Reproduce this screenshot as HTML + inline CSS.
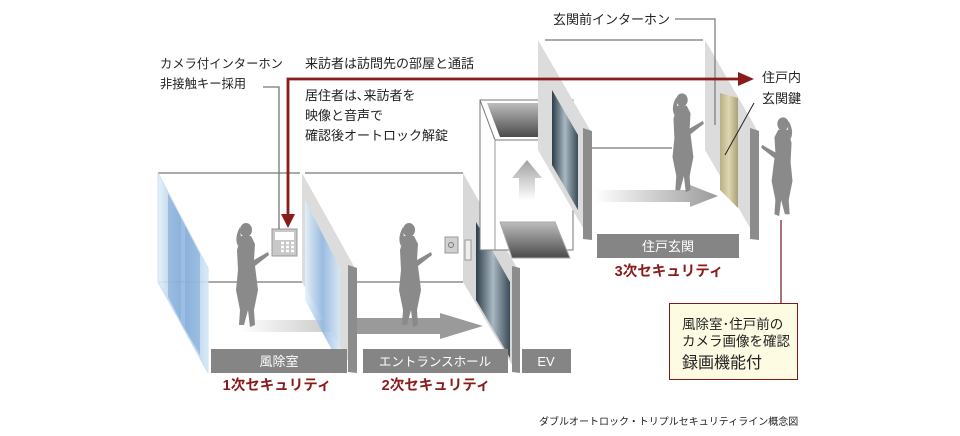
<!DOCTYPE html>
<html><head><meta charset="utf-8"><style>
html,body{margin:0;padding:0;background:#fff;}
svg{display:block;}
text{font-family:"Liberation Sans","Noto Sans CJK JP",sans-serif;}
</style></head><body>
<svg width="960" height="436" viewBox="0 0 960 436" xmlns="http://www.w3.org/2000/svg">
<defs>
<linearGradient id="glass" x1="0" x2="1" y1="0" y2="0"><stop offset="0" stop-color="#e4f1fb"/><stop offset=".5" stop-color="#8fb6e0"/><stop offset="1" stop-color="#d6e9f8"/></linearGradient>
<linearGradient id="door" x1="0" x2="1"><stop offset="0" stop-color="#2d3e4a"/><stop offset=".5" stop-color="#a9b8c2"/><stop offset="1" stop-color="#3a4c58"/></linearGradient>
<linearGradient id="plat" x1="0" y1="0" x2="0" y2="1"><stop offset="0" stop-color="#bdbdbd"/><stop offset="1" stop-color="#4a4a4a"/></linearGradient>
<linearGradient id="arr" x1="0" x2="1"><stop offset="0" stop-color="#fff"/><stop offset="1" stop-color="#9a9a9a"/></linearGradient>
<linearGradient id="arrv" x1="0" y1="1" x2="0" y2="0"><stop offset="0" stop-color="#fff"/><stop offset="1" stop-color="#a0a0a0"/></linearGradient>
<linearGradient id="gold" x1="0" x2="1"><stop offset="0" stop-color="#b8b086"/><stop offset=".5" stop-color="#ddd6b0"/><stop offset="1" stop-color="#a8a078"/></linearGradient>
<g id="woman" fill="#8a8a8a">
<ellipse cx="0" cy="0" rx="6" ry="7"/>
<path d="M-5 6 L5 6 L9 14 L8 30 L22 22 L23 25 L9 36 L12 60 L8 80 L9 95 L4 97 L2 80 L-2 95 L-7 95 L-6 80 L-10 60 L-8 40 L-9 20 Z"/>
<path d="M-6 -3 Q-12 8 -8 16 L-5 8Z"/>
</g>
</defs>

<path d="M158 173 H300 M305 173 H463 M158 282 H302 M355 282 H463" stroke="#777" stroke-width="1.2" fill="none"/>
<rect x="240" y="320" width="140" height="12" fill="url(#arr)" opacity=".8"/>
<path d="M355 318 H440 V313 L483 326 L440 339 V334 H355Z" fill="#9a9a9a"/>
<path d="M158 173 L208 268 V373 L158 282Z" fill="url(#glass)" opacity=".9"/>
<path d="M168 193 L181 217 V321 L168 297Z M185 224 L200 252 V355 L185 328Z" fill="#7fa8d6" opacity=".6"/>
<path d="M158 173 L208 268 V373 L158 282Z" fill="none" stroke="#cfe2f3"/>
<path d="M302 173 L355 268 V373 L302 282Z" fill="#dcdcdc"/>
<path d="M348 265 L357 268 V373 L348 372Z" fill="#8c8c8c"/>
<path d="M305 200 L340 268 V365 L305 300Z" fill="url(#glass)" opacity=".85"/>
<path d="M463 173 L517 268 V373 L463 282Z" fill="#d8d8d8"/>
<path d="M512 266 L520 268 V373 L512 372Z" fill="#8c8c8c"/>
<path d="M476 222 L510 282 V358 L476 300Z" fill="url(#door)"/>
<rect x="465" y="240" width="6" height="20" fill="#eee" stroke="#999"/>
<path d="M480 100 H573 V250 H480Z" fill="#fff" stroke="#777"/>
<path d="M480 100 L495 140 H573" fill="none" stroke="#777"/>
<path d="M487 103 L545 103 L560 137 L500 137Z" fill="url(#plat)"/>
<path d="M500 222 L555 222 L570 258 L512 258Z" fill="url(#plat)" stroke="#aaa"/>
<path d="M519 200 V178 H512 L527 160 L542 178 H535 V200Z" fill="url(#arrv)"/>
<path d="M495 140 V250" stroke="#999"/>
<path d="M545 40 H703 M590 148 H672" stroke="#777" stroke-width="1.2" fill="none"/>
<path d="M538 40 L590 130 V240 L538 150Z" fill="#dcdcdc"/>
<path d="M583 128 L592 131 V240 L583 239Z" fill="#8c8c8c"/>
<path d="M552 90 L578 135 V210 L552 165Z" fill="url(#door)"/>
<path d="M705 40 L757 130 V240 L705 150Z" fill="#dcdcdc"/>
<path d="M750 128 L759 131 V240 L750 239Z" fill="#8c8c8c"/>
<path d="M720 93 L738 98 V208 L720 190Z" fill="url(#gold)"/>
<path d="M595 190 H690 V185 L718 196 L690 207 V202 H595Z" fill="url(#arr)"/>
<rect x="211" y="349" width="136" height="24" fill="#858585"/>
<rect x="363" y="349" width="145" height="24" fill="#858585"/>
<rect x="522" y="349" width="49" height="24" fill="#858585"/>
<rect x="597" y="234" width="142" height="24" fill="#858585"/>
<text x="279" y="366" fill="#fff" font-size="13" text-anchor="middle">風除室</text>
<text x="435" y="366" fill="#fff" font-size="12.5" text-anchor="middle">エントランスホール</text>
<text x="546" y="366" fill="#fff" font-size="13" text-anchor="middle">EV</text>
<text x="668" y="251" fill="#fff" font-size="13" text-anchor="middle">住戸玄関</text>
<text x="277" y="390" fill="#8b1a1a" font-size="14.5" font-weight="bold" text-anchor="middle">1次セキュリティ</text>
<text x="436" y="390" fill="#8b1a1a" font-size="14.5" font-weight="bold" text-anchor="middle">2次セキュリティ</text>
<text x="669" y="276" fill="#8b1a1a" font-size="14.5" font-weight="bold" text-anchor="middle">3次セキュリティ</text>
<rect x="272" y="229" width="25" height="27" fill="#c8c8c8" stroke="#999"/>
<rect x="275" y="232" width="19" height="8" fill="#fff"/>
<path d="M281 243 h3 M286 243 h3 M291 243 h3 M281 247 h3 M286 247 h3 M291 247 h3 M281 251 h3 M286 251 h3 M291 251 h3" stroke="#fff" stroke-width="2.5"/>
<rect x="445" y="237" width="13" height="16" fill="#d0d0d0" stroke="#999"/>
<circle cx="451" cy="245" r="2.5" fill="none" stroke="#777"/>
<use href="#woman" transform="translate(246,230)"/>
<use href="#woman" transform="translate(409,230)"/>
<use href="#woman" transform="translate(682,100) scale(0.95)"/>
<use href="#woman" transform="translate(783,124) scale(-0.95,0.95)"/>
<path d="M263 87 H279 V229" stroke="#777" fill="none" stroke-width="1.3"/>
<path d="M675 19 H715 V125" stroke="#777" fill="none" stroke-width="1.2"/>
<path d="M754 103 L725 155" stroke="#222" fill="none"/>
<path d="M288 217 V79 H740" stroke="#8b1a1a" stroke-width="2.8" fill="none"/>
<path d="M281 214 L288 228 L295 214Z" fill="#8b1a1a"/>
<path d="M738 72 L754 79 L738 86Z" fill="#8b1a1a"/>
<path d="M781 220 V303" stroke="#6b1a1a" stroke-width="1.2"/>
<rect x="669.5" y="303.5" width="128" height="76" fill="#fdfbe2" stroke="#7a1a1a"/>
<g font-size="13.5" fill="#222">
<text x="682" y="329">風除室･住戸前の</text>
<text x="682" y="346">カメラ画像を確認</text>
<text x="682" y="368" font-size="16">録画機能付</text>
</g>
<g font-size="13" fill="#222">
<text x="160" y="68" font-size="12.3">カメラ付インターホン</text>
<text x="160" y="88" font-size="12.3">非接触キー採用</text>
<text x="305" y="68">来訪者は訪問先の部屋と通話</text>
<text x="305" y="100">居住者は､来訪者を</text>
<text x="305" y="120">映像と音声で</text>
<text x="305" y="140">確認後オートロック解錠</text>
<text x="553" y="24">玄関前インターホン</text>
<text x="762" y="82">住戸内</text>
<text x="762" y="103">玄関鍵</text>
</g>
<text x="539" y="425" font-size="10" fill="#222" font-family="'Liberation Serif','Noto Serif CJK SC',serif">ダブルオートロック・トリプルセキュリティライン概念図</text>
</svg>
</body></html>
